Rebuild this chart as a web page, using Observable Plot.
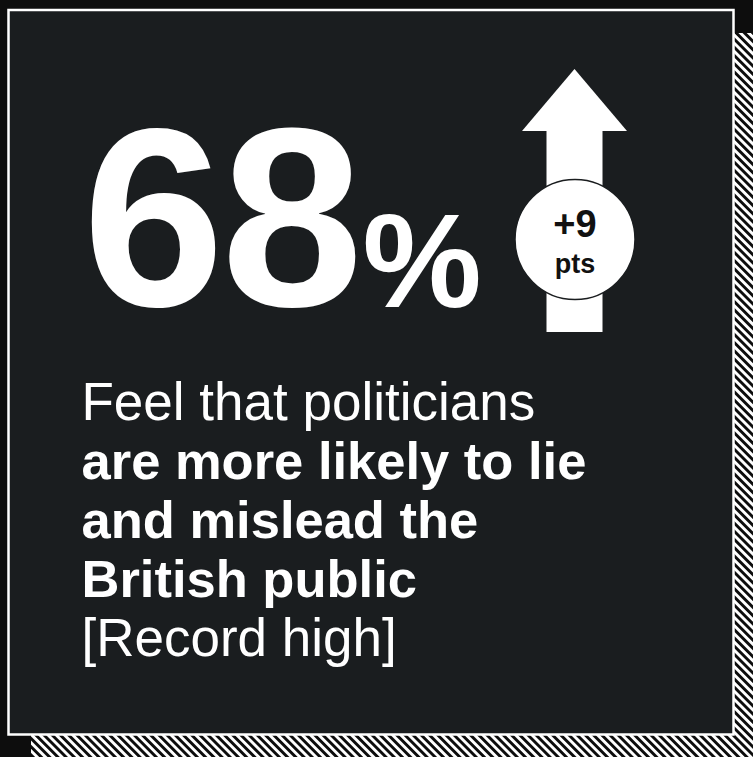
<!DOCTYPE html>
<html>
<head>
<meta charset="utf-8">
<script src="https://cdn.jsdelivr.net/npm/d3@7"></script>
<script src="https://cdn.jsdelivr.net/npm/@observablehq/plot@0.6"></script>
<style>
  html, body { margin: 0; padding: 0; background: #0d0d0d; }
  #chart { width: 753px; height: 757px; overflow: hidden; }
  svg { display: block; }
  .headline text { letter-spacing: -3px; }
</style>
</head>
<body>
<div id="chart"></div>
<script>
// ---- data ----
const shareValue = [68];              // headline percentage
const changePts = [9];                // change in points
const changeUnit = ["pts"];
const statementLines = [
  "Feel that politicians",
  "are more likely to lie",
  "and mislead the",
  "British public",
  "[Record high]"
];
const statementBold = [false, true, true, true, false];

// ---- layout (pixel frame) ----
const W = 753, H = 757;
const FONT = "'Liberation Sans', Arial, Helvetica, sans-serif";
const panel = {x1: 8.5, x2: 733.5, y1: 10, y2: 734.5};
const shadow = {x1: 31, x2: W + 10, y1: 33, y2: H + 10};
const arrow = {cx: 574.5, tip: 69, headBase: 131, headHalf: 52.5, shaftHalf: 28, bottom: 332};
const badge = {cx: 574.5, cy: 239, r: 60};
const textX = 81, firstBaseline = 419, lineGap = 59;

const statement = statementLines.map((t, i) => ({
  text: t, bold: statementBold[i], x: textX, y: firstBaseline + i * lineGap
}));

const headData = [
  {x: arrow.cx - arrow.headHalf, y1: arrow.headBase, y2: arrow.headBase},
  {x: arrow.cx, y1: arrow.headBase, y2: arrow.tip},
  {x: arrow.cx + arrow.headHalf, y1: arrow.headBase, y2: arrow.headBase}
];

const svg = Plot.plot({
  width: W,
  height: H,
  margin: 0,
  style: {background: "transparent", fontFamily: FONT, overflow: "hidden"},
  x: {domain: [0, W], range: [0, W], axis: null},
  y: {domain: [0, H], range: [0, H], axis: null},
  marks: [
    Plot.rect([shadow], {x1: "x1", x2: "x2", y1: "y1", y2: "y2", fill: "url(#hatch)"}),
    Plot.rect([panel], {x1: "x1", x2: "x2", y1: "y1", y2: "y2", fill: "#1a1d1f", stroke: "#ffffff", strokeWidth: 2.5}),
    // arrow shaft + head
    Plot.rect([arrow], {x1: d => d.cx - d.shaftHalf, x2: d => d.cx + d.shaftHalf, y1: d => d.headBase - 1, y2: "bottom", fill: "#ffffff"}),
    Plot.areaY(headData, {x: "x", y1: "y1", y2: "y2", fill: "#ffffff", curve: "linear"}),
    // badge
    Plot.dot([badge], {x: "cx", y: "cy", r: badge.r, fill: "#ffffff", stroke: "#1a1d1f", strokeWidth: 1.5}),
    Plot.text(changePts, {x: badge.cx, y: 236, text: d => "+" + d, fontSize: 38, fontWeight: "bold", fill: "#111", textAnchor: "middle", lineAnchor: "bottom"}),
    Plot.text(changeUnit, {x: badge.cx, y: 272, text: d => d, fontSize: 27, fontWeight: "bold", fill: "#111", textAnchor: "middle", lineAnchor: "bottom"}),
    // headline number
    Plot.text(shareValue, {x: 82, y: 305, text: d => String(d), fontSize: 255, fontWeight: "bold", fill: "#ffffff", textAnchor: "start", lineAnchor: "bottom", className: "headline"}),
    Plot.text(["%"], {x: 362, y: 306, text: d => d, fontSize: 134, fontWeight: "bold", fill: "#ffffff", textAnchor: "start", lineAnchor: "bottom"}),
    // statement
    Plot.text(statement.filter(d => !d.bold), {x: "x", y: "y", text: "text", fontSize: 53, fontWeight: "normal", fill: "#ffffff", textAnchor: "start", lineAnchor: "bottom"}),
    Plot.text(statement.filter(d => d.bold), {x: "x", y: "y", text: "text", fontSize: 52.5, fontWeight: "bold", fill: "#ffffff", textAnchor: "start", lineAnchor: "bottom"})
  ]
});

// hatch pattern for the offset shadow
const NS = "http://www.w3.org/2000/svg";
const defs = document.createElementNS(NS, "defs");
const pat = document.createElementNS(NS, "pattern");
const P = 5.8;
pat.setAttribute("id", "hatch");
pat.setAttribute("patternUnits", "userSpaceOnUse");
pat.setAttribute("width", P);
pat.setAttribute("height", P);
pat.setAttribute("patternTransform", "rotate(-45)");
const bg = document.createElementNS(NS, "rect");
bg.setAttribute("width", P); bg.setAttribute("height", P); bg.setAttribute("fill", "#0d0d0d");
const st = document.createElementNS(NS, "rect");
st.setAttribute("width", P / 2); st.setAttribute("height", P); st.setAttribute("fill", "#ffffff");
pat.appendChild(bg); pat.appendChild(st); defs.appendChild(pat);
svg.insertBefore(defs, svg.firstChild);

document.getElementById("chart").appendChild(svg);
</script>
</body>
</html>
